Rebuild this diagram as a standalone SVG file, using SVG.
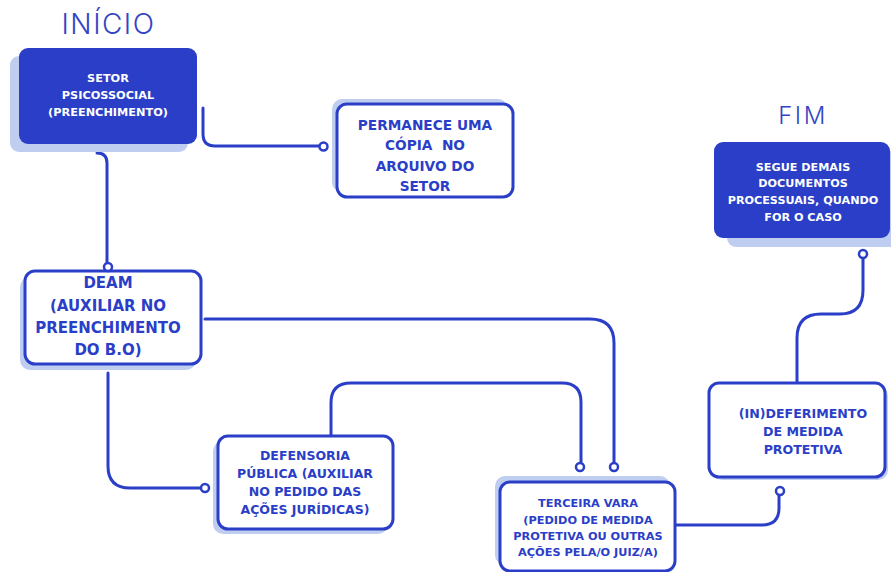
<svg xmlns="http://www.w3.org/2000/svg" width="891" height="572" viewBox="0 0 891 572">
<style>
.sh{fill:#bfcdf0}
.fb{fill:#2a3ec8}
.ob{fill:#fff;stroke:#2a3ec8;stroke-width:3}
.tw{fill:#fff;font-family:"DejaVu Sans",sans-serif;font-weight:bold;text-anchor:middle}
.tb{fill:#2a3ec8;font-family:"DejaVu Sans",sans-serif;font-weight:bold;text-anchor:middle}
.title{fill:#3344c4;font-family:Inter,"Liberation Sans",sans-serif;font-weight:300;text-anchor:middle}
.c{fill:none;stroke:#2a3ec8;stroke-width:3;stroke-linecap:round;stroke-linejoin:round}
.dot{fill:#fff;stroke:#2a3ec8;stroke-width:2.5}
</style>
<rect width="891" height="572" fill="#fff"/>
<g id="connectors">
<path class="c" d="M203 108 V134 Q203 146 215 146 H319"/>
<path class="c" d="M97 153 Q107 153 107 163 V263"/>
<path class="c" d="M205 319 H590 Q614 319 614 343 V463"/>
<path class="c" d="M108 373 V466 Q108 488 130 488 H201"/>
<path class="c" d="M331 436 V403 Q331 383 351 383 H562 Q581 383 581 402 V463"/>
<path class="c" d="M676 525 H762 Q779 525 779 508 V495"/>
<path class="c" d="M797 383 V338 Q797 314 821 314 H840 Q863 314 863 290 V258"/>
</g>
<text class="title" x="108.5" y="34" font-size="28" letter-spacing="1.5">INÍCIO</text>
<text class="title" x="803" y="123.5" font-size="24" letter-spacing="2.5">FIM</text>
<g id="setor">
<rect class="sh" x="10" y="56" width="178" height="96" rx="9"/>
<rect class="fb" x="19" y="48" width="178" height="96" rx="9"/>
<text class="tw" font-size="11.3"><tspan x="108" y="82">SETOR</tspan><tspan x="108" y="99">PSICOSSOCIAL</tspan><tspan x="108" y="116">(PREENCHIMENTO)</tspan></text>
</g>
<g id="permanece">
<rect class="sh" x="332" y="99" width="176" height="93" rx="10"/>
<rect class="ob" x="337" y="104" width="176" height="93" rx="10"/>
<text class="tb" font-size="13.7" xml:space="preserve"><tspan x="425" y="130">PERMANECE UMA</tspan><tspan x="425" y="150">CÓPIA  NO</tspan><tspan x="425" y="171">ARQUIVO DO</tspan><tspan x="425" y="191">SETOR</tspan></text>
</g>
<g id="segue">
<rect class="sh" x="727" y="151" width="178" height="96" rx="9"/>
<rect class="fb" x="714" y="142" width="176" height="96" rx="9"/>
<text class="tw" font-size="11.2"><tspan x="803" y="171">SEGUE DEMAIS</tspan><tspan x="803" y="187">DOCUMENTOS</tspan><tspan x="803" y="204">PROCESSUAIS, QUANDO</tspan><tspan x="803" y="221">FOR O CASO</tspan></text>
</g>
<g id="deam">
<rect class="sh" x="20" y="277" width="176" height="93" rx="10"/>
<rect class="ob" x="25" y="271" width="176" height="93" rx="10"/>
<text class="tb" font-size="15"><tspan x="108" y="287.5">DEAM</tspan><tspan x="108" y="310.5">(AUXILIAR NO</tspan><tspan x="108" y="332.5">PREENCHIMENTO</tspan><tspan x="108" y="354.5">DO B.O)</tspan></text>
</g>
<g id="defensoria">
<rect class="sh" x="213" y="441" width="175" height="93" rx="10"/>
<rect class="ob" x="218" y="436" width="175" height="93" rx="10"/>
<text class="tb" font-size="12.5"><tspan x="305" y="459.6">DEFENSORIA</tspan><tspan x="305" y="477.6">PÚBLICA (AUXILIAR</tspan><tspan x="305" y="495.6">NO PEDIDO DAS</tspan><tspan x="305" y="513.6">AÇÕES JURÍDICAS)</tspan></text>
</g>
<g id="terceira">
<rect class="sh" x="495" y="476" width="175" height="89" rx="10"/>
<rect class="ob" x="500" y="482" width="175" height="89" rx="10"/>
<text class="tb" font-size="11.3"><tspan x="588" y="507">TERCEIRA VARA</tspan><tspan x="588" y="524">(PEDIDO DE MEDIDA</tspan><tspan x="588" y="540">PROTETIVA OU OUTRAS</tspan><tspan x="588" y="556">AÇÕES PELA/O JUIZ/A)</tspan></text>
</g>
<g id="indeferimento">
<rect class="sh" x="712" y="386" width="176" height="94" rx="10"/>
<rect class="ob" x="709" y="383" width="176" height="94" rx="10"/>
<text class="tb" font-size="12.6"><tspan x="803" y="417.6">(IN)DEFERIMENTO</tspan><tspan x="803" y="435.6">DE MEDIDA</tspan><tspan x="803" y="453.6">PROTETIVA</tspan></text>
</g>
<g id="endpoints">
<circle class="dot" cx="323.5" cy="146.5" r="4"/>
<circle class="dot" cx="108" cy="267" r="4"/>
<circle class="dot" cx="614" cy="467" r="4"/>
<circle class="dot" cx="205" cy="488" r="4"/>
<circle class="dot" cx="580" cy="467" r="4"/>
<circle class="dot" cx="780" cy="491" r="4"/>
<circle class="dot" cx="863" cy="254" r="4"/>
</g>
</svg>
